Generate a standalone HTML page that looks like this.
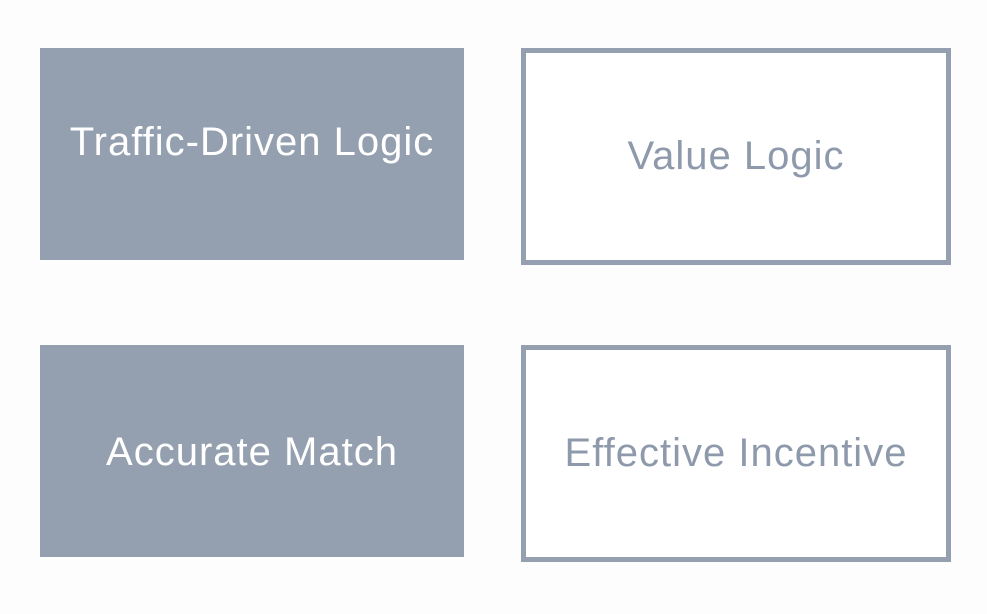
<!DOCTYPE html>
<html><head><style>
body{margin:0;width:987px;height:614px;background:#fdfdfe;position:relative;overflow:hidden;font-family:"Liberation Sans",sans-serif;}
.b{position:absolute;box-sizing:border-box;display:flex;align-items:center;justify-content:center;font-size:40px;letter-spacing:1px;}
.f{background:#94a0af;color:#fff;}
.o{border:5px solid #94a0af;color:#8e9aab;background:#fff;}
</style></head><body>
<div class="b f" style="left:40px;top:48px;width:424px;height:212px;padding-bottom:24px;">Traffic-Driven Logic</div>
<div class="b o" style="left:521px;top:48px;width:430px;height:217px;">Value Logic</div>
<div class="b f" style="left:40px;top:345px;width:424px;height:212px;padding-top:2px">Accurate Match</div>
<div class="b o" style="left:521px;top:345px;width:430px;height:217px;">Effective Incentive</div>
</body></html>
